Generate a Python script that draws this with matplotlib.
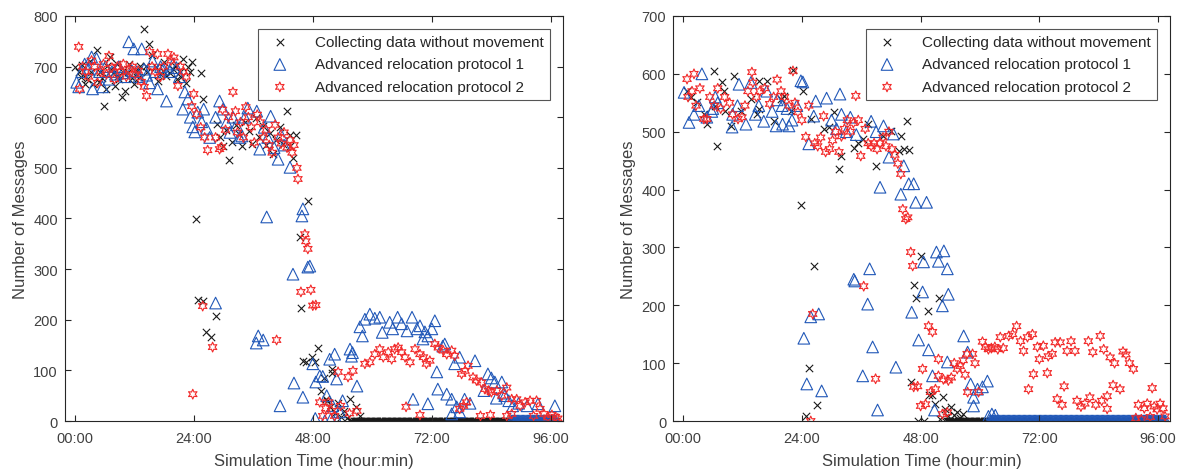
import numpy as np
import matplotlib.pyplot as plt
from matplotlib.ticker import FixedLocator

plt.rcParams['font.family'] = ['Liberation Sans', 'DejaVu Sans']

# ---------------- left panel: (hour, messages) ----------------
left_nomove = [
    (0.0, 699), (0.8, 690), (1.2, 680), (1.5, 703), (2.0, 665), (2.4, 675), (3.0, 712), (3.3, 690),
    (3.6, 665), (4.4, 733), (4.8, 670), (5.0, 690), (5.6, 678), (6.0, 622), (6.3, 655), (6.6, 702),
    (7.1, 719), (7.4, 695), (7.7, 688), (8.1, 662), (8.5, 705), (8.8, 682), (9.0, 675), (9.5, 640),
    (9.8, 690), (10.1, 652), (10.8, 690), (11.0, 705), (11.5, 678), (12.0, 665), (12.5, 691),
    (12.9, 680), (13.2, 702), (13.9, 774), (14.3, 701), (14.6, 690), (14.9, 745), (15.6, 722),
    (16.3, 700), (16.8, 672), (17.1, 685), (17.8, 692), (18.0, 710), (18.5, 681), (19.3, 688),
    (19.8, 695), (20.2, 701), (20.6, 675), (21.2, 690), (21.5, 680), (21.8, 715), (22.4, 668),
    (22.8, 700), (23.2, 689), (23.6, 709), (24.4, 399), (24.8, 239), (25.4, 688), (25.8, 237),
    (25.8, 636), (26.4, 176), (27.4, 166), (28.4, 207), (28.6, 587), (29.3, 560), (29.9, 543),
    (30.5, 575), (31.1, 516), (31.8, 552), (32.5, 585), (33.1, 566), (33.7, 543), (34.4, 590),
    (35.1, 573), (35.8, 548), (36.5, 598), (37.2, 560), (37.9, 583), (38.6, 545), (39.3, 568),
    (40.0, 527), (40.6, 555), (41.3, 580), (42.0, 548), (42.8, 612), (43.4, 543), (43.4, 565),
    (44.0, 520), (44.6, 565), (45.4, 363), (45.6, 223), (46.0, 118), (46.6, 117), (47.0, 435),
    (47.8, 126), (48.4, 117), (49.0, 144), (49.6, 60), (50.2, 85), (50.6, 43), (50.8, 40),
    (51.4, 28), (51.8, 95), (51.8, 103), (52.4, 15), (53.0, 35), (53.6, 8), (54.2, 20),
    (54.8, 5), (55.5, 43), (56.7, 28), (57.5, 10),
]
left_proto1 = [
    (0.4, 669), (0.8, 660), (1.4, 690), (2.0, 705), (2.8, 695), (3.4, 719), (3.6, 656), (4.4, 716),
    (5.0, 690), (5.6, 660), (6.2, 700), (6.9, 675), (7.5, 690), (8.2, 685), (8.9, 700), (9.6, 688),
    (10.2, 680), (10.9, 749), (11.5, 692), (11.9, 735), (12.5, 690), (13.0, 680), (13.5, 735),
    (14.0, 695), (14.5, 683), (15.1, 668), (15.7, 711), (16.2, 690), (16.7, 656), (17.3, 700),
    (17.9, 695), (18.5, 632), (19.2, 690), (19.8, 705), (20.5, 698), (21.1, 680), (21.8, 616),
    (22.2, 650), (22.8, 636), (23.3, 600), (23.8, 581), (24.2, 571), (24.8, 610), (25.6, 591),
    (26.0, 616), (26.6, 578), (27.2, 560), (28.4, 233), (28.4, 600), (29.2, 632), (29.9, 616),
    (30.6, 590), (31.3, 570), (31.9, 600), (32.6, 585), (33.2, 560), (33.7, 563), (34.3, 600),
    (34.9, 618), (36.6, 154), (37.0, 168), (36.7, 612), (38.0, 160), (37.3, 537), (38.7, 403),
    (38.2, 580), (38.9, 560), (39.5, 602), (40.2, 540), (41.4, 30), (41.0, 517), (41.6, 565),
    (42.2, 545), (44.0, 290), (44.2, 75), (43.4, 501), (45.8, 405), (46.0, 419), (46.0, 47),
    (47.0, 304), (47.4, 306), (48.0, 113), (48.6, 77),
    (49.4, 89), (50.0, 88), (50.8, 50), (51.4, 122), (52.0, 30), (52.4, 132), (52.8, 83),
    (53.4, 18), (54.0, 40), (55.5, 142), (55.8, 128), (56.0, 135), (56.9, 69), (57.5, 186),
    (58.0, 168), (58.5, 201), (59.5, 211), (60.5, 203), (61.5, 205), (62.0, 175), (63.5, 195),
    (64.1, 182), (65.1, 205), (65.9, 192), (67.0, 178), (68.0, 205), (68.2, 43), (69.0, 182),
    (69.6, 188), (70.2, 162), (70.6, 176), (71.2, 168), (71.2, 34), (72.0, 182), (72.6, 198),
    (73.0, 97), (73.2, 63), (74.2, 148), (74.6, 152), (75.0, 53), (76.0, 43), (76.0, 14),
    (76.6, 113), (77.0, 28), (77.6, 126), (77.6, 18), (78.6, 43), (79.7, 35), (80.7, 119),
    (82.5, 60), (83.3, 93), (84.0, 85), (84.7, 77), (85.0, 45), (86.1, 77), (86.5, 55),
    (86.7, 50), (87.5, 40), (88.3, 30), (89.5, 35), (91.2, 30), (93.4, 34), (96.8, 30),
    (48.5, 5), (50.4, 0), (51.6, 3), (53.0, 0),
]
left_proto2 = [
    (0.8, 739), (1.0, 656), (1.6, 700), (2.2, 690), (2.8, 680), (3.4, 712), (4.0, 700), (4.6, 668),
    (5.2, 690), (5.8, 705), (6.4, 685), (6.9, 721), (7.5, 698), (8.0, 675), (8.6, 700), (9.2, 690),
    (9.8, 705), (10.4, 680), (11.0, 695), (11.6, 700), (12.2, 685), (12.8, 692), (13.4, 670),
    (14.0, 660), (14.5, 642), (15.1, 729), (15.6, 700), (16.2, 690), (16.7, 725), (17.3, 680),
    (17.9, 700), (18.8, 725), (19.4, 712), (20.0, 718), (20.8, 662), (21.3, 700), (21.9, 690),
    (22.5, 680), (23.8, 53), (23.6, 622), (24.0, 646), (24.6, 606), (25.8, 227), (25.4, 580),
    (26.2, 560), (26.8, 535), (27.8, 146), (28.4, 560), (29.2, 537), (29.6, 541), (29.8, 615),
    (30.4, 575), (31.0, 600), (31.9, 650), (32.4, 612), (32.8, 570), (33.4, 590), (34.0, 560),
    (34.5, 620), (35.0, 600), (35.6, 580), (36.2, 550), (36.8, 605), (37.4, 590), (38.0, 560),
    (38.6, 575), (39.2, 545), (39.8, 530), (40.4, 585), (40.7, 160), (41.0, 560), (41.6, 548),
    (42.2, 570), (42.8, 540), (43.4, 555), (43.8, 530), (44.2, 545), (44.8, 500), (45.0, 478),
    (45.6, 255), (46.4, 369), (46.6, 355), (47.0, 340), (47.6, 259), (48.0, 228), (48.6, 229),
    (49.4, 37), (50.0, 10), (50.6, 25), (51.2, 37), (51.8, 20), (52.4, 10), (53.1, 97),
    (53.6, 30), (55.1, 87), (55.4, 15), (56.1, 99), (56.9, 20), (58.5, 113), (59.5, 116),
    (60.5, 132), (61.5, 142), (62.2, 126), (63.2, 136), (63.9, 122), (64.5, 142), (65.2, 145),
    (65.9, 136), (66.6, 126), (66.8, 28), (67.6, 116), (68.6, 142), (69.6, 132), (69.6, 12),
    (70.3, 126), (70.9, 113), (71.6, 119), (72.6, 152), (73.3, 145), (74.3, 139), (75.0, 132),
    (76.0, 139), (76.6, 129), (77.6, 24), (78.0, 93), (78.4, 30), (78.7, 99), (79.0, 37),
    (79.3, 109), (80.3, 86), (81.0, 80), (81.8, 10), (82.0, 76), (82.7, 63), (83.4, 60),
    (83.8, 12), (84.0, 57), (85.1, 60), (86.1, 50), (87.1, 66), (87.1, 10), (88.1, 43),
    (88.1, 14), (89.1, 43), (89.8, 30), (90.8, 37), (91.8, 40), (92.5, 10), (93.1, 40),
    (93.8, 24), (94.6, 14), (95.4, 7), (96.2, 12), (96.9, 8), (97.4, 5),
]
left_nomove_zero_hours = np.arange(55.5, 97.01, 0.25)
left_proto1_zero_hours = np.arange(88.0, 97.01, 0.25)

# ---------------- right panel ----------------
right_nomove = [
    (0.8, 571), (1.6, 560), (2.8, 551), (4.2, 530), (4.8, 513), (6.3, 605), (6.5, 545), (6.8, 476),
    (7.9, 586), (8.3, 570), (8.5, 535), (9.7, 510), (10.3, 596), (11.7, 536), (13.7, 556),
    (15.0, 530), (15.3, 588), (15.3, 540), (16.9, 588), (18.4, 518), (19.8, 556), (20.4, 562),
    (21.8, 536), (22.3, 607), (23.8, 373), (24.2, 570), (25.8, 522), (28.4, 505), (29.4, 508),
    (30.5, 534), (31.5, 435), (31.9, 458), (34.5, 472), (35.4, 480), (36.3, 487), (37.3, 513),
    (38.9, 440), (40.3, 493), (42.0, 501), (44.0, 493), (43.6, 466), (44.6, 470), (45.2, 518),
    (45.6, 468), (26.4, 268), (25.4, 91), (27.0, 28), (24.8, 8), (46.0, 67), (46.6, 235),
    (47.0, 212), (48.0, 285), (49.4, 190), (51.8, 212), (47.4, 0), (48.6, 0), (49.6, 45),
    (50.4, 45), (52.0, 3), (52.6, 41), (51.0, 30), (53.0, 20), (53.6, 8), (54.2, 25), (54.8, 10),
    (55.4, 15), (56.0, 5), (56.6, 12),
]
right_proto1 = [
    (0.2, 568), (1.2, 516), (2.2, 530), (3.2, 545), (3.8, 600), (4.8, 525), (5.8, 535), (6.0, 540),
    (6.5, 560), (7.0, 550), (9.9, 508), (10.0, 530), (11.0, 545), (11.3, 582), (12.7, 513),
    (13.7, 585), (14.6, 530), (15.3, 545), (16.3, 518), (16.9, 570), (18.0, 535), (18.8, 510),
    (19.0, 555), (20.0, 545), (20.1, 513), (21.0, 540), (21.4, 510), (22.0, 520), (23.0, 545),
    (23.8, 588), (24.2, 586), (25.4, 479), (26.4, 527), (26.8, 553), (29.0, 558), (31.7, 565),
    (30.0, 520), (31.0, 505), (32.0, 530), (33.0, 500), (33.8, 525), (35.0, 495), (38.0, 518),
    (39.0, 500), (40.5, 510), (41.6, 456), (42.5, 496), (44.6, 441), (45.6, 410), (46.6, 410),
    (44.0, 392), (39.8, 404), (47.0, 378), (49.2, 378), (34.5, 245), (37.7, 263), (51.2, 292),
    (52.7, 294), (48.6, 275), (51.6, 276), (53.4, 263), (48.4, 223), (34.7, 242), (37.3, 202),
    (25.8, 180), (27.4, 185), (24.4, 143), (25.0, 64), (28.0, 52), (38.3, 128), (36.3, 78),
    (39.3, 19), (43.0, 93), (46.2, 188), (52.4, 199), (53.6, 219), (47.6, 140), (49.6, 123),
    (50.4, 78), (50.8, 19), (53.4, 102), (56.7, 147), (57.5, 119), (58.1, 64), (60.5, 59),
    (61.5, 69), (59.5, 55), (58.7, 26), (58.7, 41), (61.7, 8), (62.4, 12), (63.1, 10),
]
right_proto2 = [
    (0.8, 591), (1.0, 560), (1.8, 570), (2.2, 600), (2.6, 545), (3.4, 575), (4.2, 522), (4.8, 522),
    (5.4, 560), (6.3, 545), (7.0, 575), (7.6, 540), (8.4, 560), (9.4, 550), (10.0, 530),
    (11.1, 522), (11.9, 525), (12.5, 545), (13.1, 570), (13.9, 603), (14.1, 585), (14.8, 560),
    (15.5, 570), (16.5, 575), (17.5, 548), (18.3, 560), (19.0, 590), (19.8, 570), (20.5, 560),
    (21.4, 545), (22.2, 605), (22.6, 550), (23.2, 534), (24.0, 520), (24.8, 491), (25.4, 545),
    (25.8, 0), (26.2, 185), (26.6, 480), (27.2, 475), (27.8, 490), (28.4, 527), (28.8, 465),
    (29.6, 470), (30.2, 485), (30.8, 500), (31.5, 465), (32.0, 492), (32.6, 505), (33.2, 520),
    (33.8, 500), (34.4, 515), (34.9, 562), (35.4, 520), (35.9, 458), (36.5, 233), (36.8, 505),
    (37.4, 480), (38.0, 475), (38.6, 480), (38.9, 73), (39.2, 470), (39.8, 480), (40.4, 490),
    (41.0, 475), (41.6, 500), (42.2, 470), (42.8, 460), (43.4, 445), (44.0, 427), (44.4, 366),
    (45.0, 349), (45.4, 352), (46.0, 292), (46.4, 268), (46.6, 59), (47.4, 60), (48.0, 26),
    (48.4, 90), (49.0, 29), (49.6, 164), (50.0, 50), (50.4, 154), (51.0, 55), (51.6, 107),
    (51.6, 78), (52.4, 12), (52.6, 72), (53.4, 15), (53.6, 70), (54.2, 75), (54.8, 100),
    (55.4, 90), (56.0, 95), (56.6, 105), (57.0, 80), (57.4, 116), (57.5, 50), (58.5, 116),
    (59.0, 100), (59.7, 50), (60.5, 137), (61.1, 128), (61.7, 124), (62.3, 126), (63.0, 128),
    (63.6, 124), (64.1, 145), (64.7, 126), (65.8, 147), (66.6, 150), (67.4, 164), (68.2, 138),
    (68.8, 121), (69.6, 145), (69.8, 55), (70.6, 150), (70.8, 81), (71.6, 128), (72.0, 107),
    (72.8, 130), (73.6, 83), (73.8, 112), (74.6, 116), (75.2, 136), (75.6, 38), (76.2, 136),
    (76.6, 28), (77.0, 60), (77.6, 121), (78.4, 138), (79.2, 121), (79.6, 35), (80.4, 25),
    (81.2, 30), (81.9, 138), (82.2, 41), (82.8, 119), (83.4, 28), (84.3, 147), (84.6, 35),
    (85.0, 124), (85.7, 43), (85.7, 21), (86.3, 110), (86.9, 62), (87.2, 100), (88.3, 55),
    (88.9, 120), (89.5, 115), (90.2, 100), (91.0, 90), (91.5, 5), (92.0, 28), (92.6, 3),
    (93.2, 22), (93.8, 30), (94.4, 7), (94.8, 57), (95.2, 25), (95.8, 20), (96.4, 30),
    (97.0, 22), (97.4, 8),
]
right_nomove_zero_hours = np.arange(53.0, 97.01, 0.25)
right_proto1_zero_hours = np.arange(62.0, 97.51, 0.25)

series_labels = ["Collecting data without movement",
                 "Advanced relocation protocol 1",
                 "Advanced relocation protocol 2"]
time_ticks = [0, 24, 48, 72, 96]
time_labels = ["00:00", "24:00", "48:00", "72:00", "96:00"]

BLACK = '#1a1a1a'
BLUE = '#2158b8'
RED = '#f22a2a'
STAR = (6, 1, 0)
TEXT = '#404040'


def drawPanel(ax, nomove, proto1, proto2, nomoveZero, proto1Zero, ymax):
    t0, n0 = zip(*nomove)
    t1, n1 = zip(*proto1)
    t2, n2 = zip(*proto2)

    # zero runs first so the other markers sit on top
    ax.scatter(nomoveZero, np.zeros(len(nomoveZero)), s=28, marker='x', color=BLACK, linewidths=0.8)
    ax.scatter(proto1Zero, np.zeros(len(proto1Zero)), s=70, marker='^', facecolors='none',
               edgecolors=BLUE, linewidths=0.8)

    h0 = ax.scatter(t0, n0, s=28, marker='x', color=BLACK, linewidths=0.8)
    h1 = ax.scatter(t1, n1, s=70, marker='^', facecolors='none', edgecolors=BLUE, linewidths=0.8)
    h2 = ax.scatter(t2, n2, s=50, marker=STAR, facecolors='none', edgecolors=RED, linewidths=0.8)

    ax.set_xlim(-2, 98.4)
    ax.set_ylim(0, ymax)
    ax.xaxis.set_major_locator(FixedLocator(time_ticks))
    ax.set_xticklabels(time_labels)
    ax.set_yticks(range(0, ymax + 1, 100))
    ax.tick_params(direction='in', top=True, right=True, length=4, width=0.8,
                   colors='#262626', labelcolor=TEXT, labelsize=10.5)
    ax.tick_params(axis='x', pad=7)
    ax.tick_params(axis='y', pad=5)
    for sp in ax.spines.values():
        sp.set_color('#262626')
        sp.set_linewidth(0.8)
    ax.set_xlabel("Simulation Time (hour:min)", fontsize=12, color=TEXT, labelpad=6)
    ax.set_ylabel("Number of Messages", fontsize=12, color=TEXT, labelpad=4)

    leg = ax.legend([h0, h1, h2], series_labels, loc='upper right', fontsize=11,
                    frameon=True, fancybox=False, framealpha=1, edgecolor='#555555',
                    borderaxespad=0.85, labelspacing=0.55, handletextpad=1.3, borderpad=0.4)
    leg.get_frame().set_linewidth(0.8)
    for txt in leg.get_texts():
        txt.set_color('#262626')


fig = plt.figure(figsize=(12, 4.77), dpi=100)
axLeft = fig.add_axes([0.054, 0.1153, 0.415, 0.8491])
axRight = fig.add_axes([0.561, 0.1153, 0.414, 0.8491])

drawPanel(axLeft, left_nomove, left_proto1, left_proto2,
          left_nomove_zero_hours, left_proto1_zero_hours, 800)
drawPanel(axRight, right_nomove, right_proto1, right_proto2,
          right_nomove_zero_hours, right_proto1_zero_hours, 700)

fig.savefig("out.png", dpi=100)
